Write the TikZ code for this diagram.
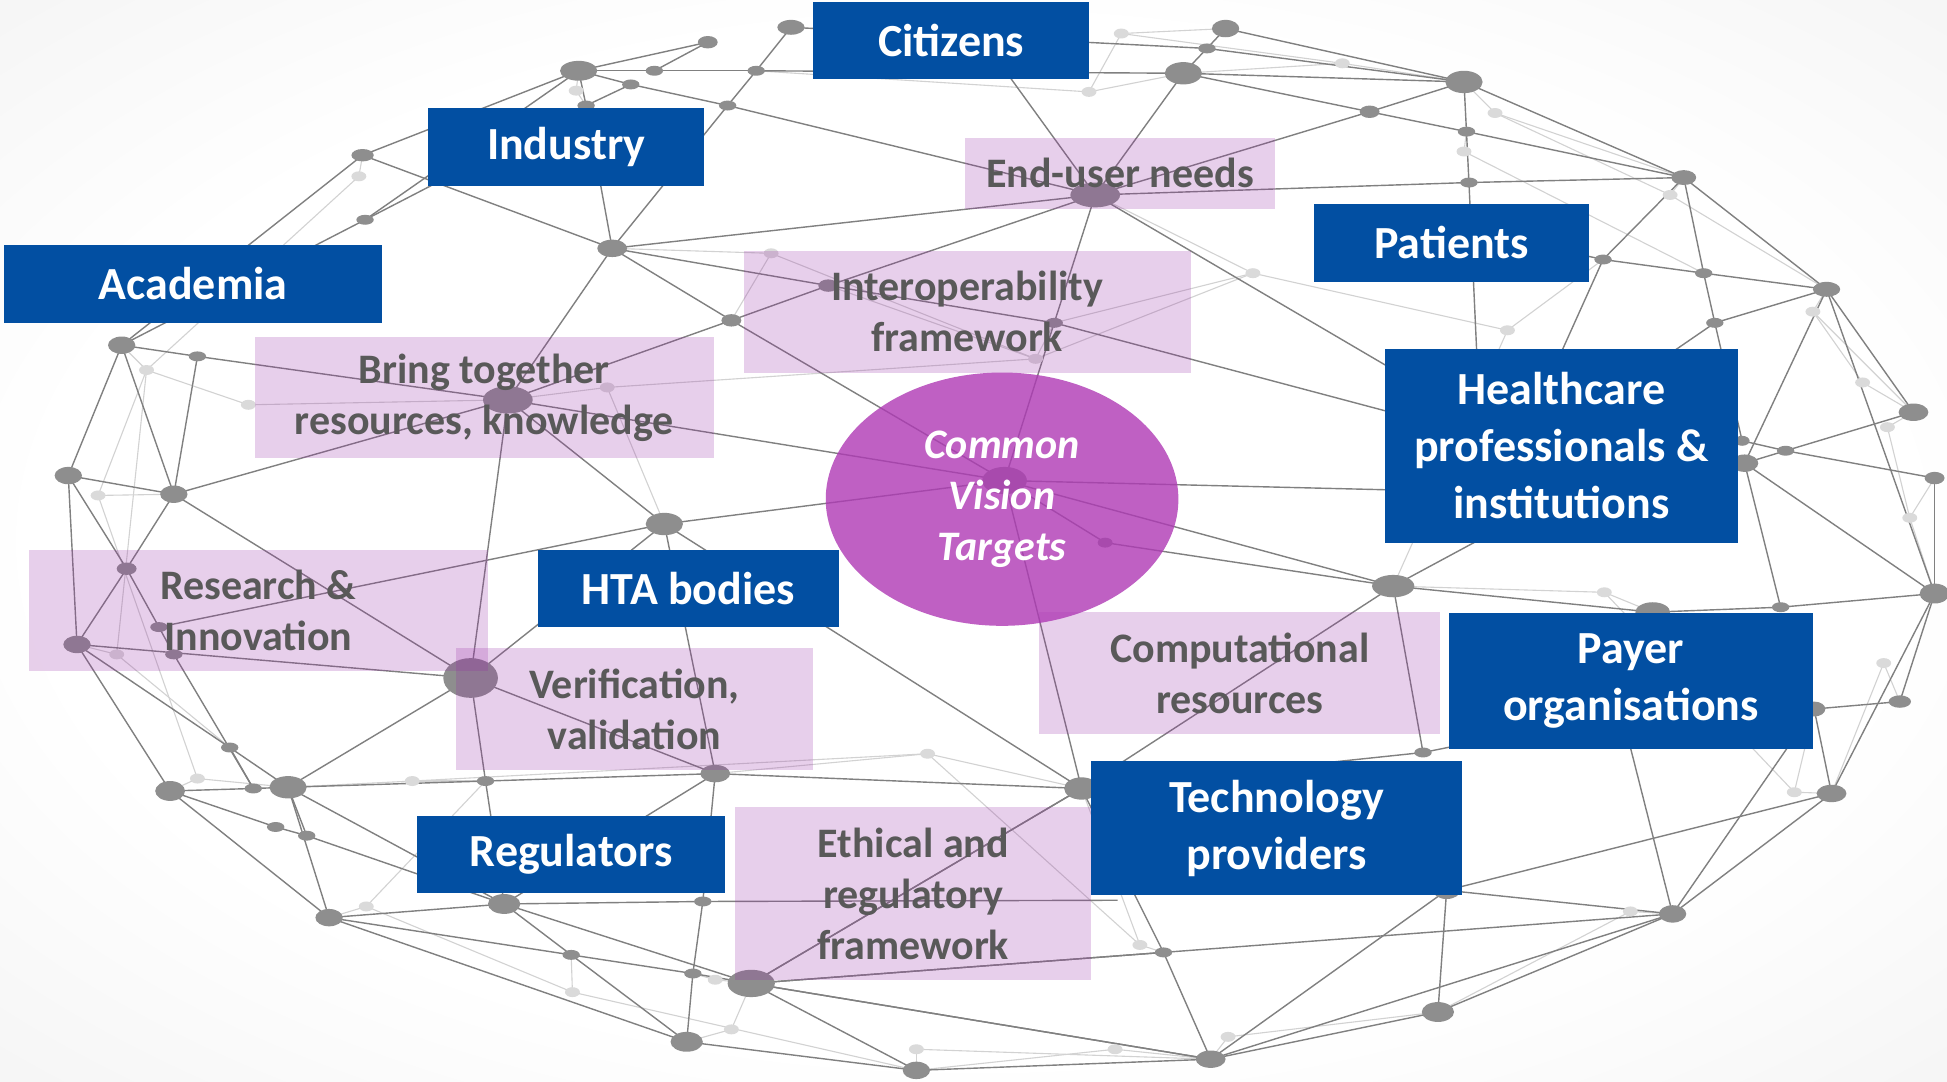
\documentclass[tikz,border=0pt]{standalone}
\usepackage{fontspec}
\setmainfont{Carlito}
\usetikzlibrary{shapes.geometric}

\definecolor{actorblue}{RGB}{2,79,162}
\definecolor{themepink}{RGB}{150,40,165}
\definecolor{themetext}{RGB}{89,89,89}
\definecolor{visionpurple}{RGB}{175,57,181}
\definecolor{meshdark}{RGB}{128,128,128}
\definecolor{meshlight}{RGB}{210,210,210}
\definecolor{dotdark}{RGB}{142,142,142}
\definecolor{dotlight}{RGB}{218,218,218}

\newdimen\unitpx \unitpx=0.6208pt
\pgfdeclareradialshading{bgglow}{\pgfpoint{0bp}{0bp}}{rgb(0bp)=(1,1,1); rgb(24bp)=(1,1,1); rgb(50bp)=(0.915,0.915,0.915); rgb(72bp)=(0.89,0.89,0.89)}

% mesh dots: name/x/y/rx/ry
\def\meshdots{a1/637/22/11/6, a2/570/34/8/5, a3/466/57/15/8, a4/527/57/7/4, a5/508/68/7/4, a6/609/57/7/4,
 a7/586/85/7/4, a8/472/85/7/4, a9/292/125/9/5, a10/294/177/7/4, a11/493/200/12/7, a12/589/258/8/5,
 a13/98/278/11/7, a14/159/287/7/4, a15/55/383/11/7, a16/140/398/11/7, a17/409/322/20/11, a18/535/422/15/9,
 a19/667/230/8/5, b1/987/23/11/7, b2/972/39/7/4, b3/953/59/15/9, b4/1179/66/15/9, b5/1103/90/8/5,
 b6/1181/106/7/4, b7/1183/147/7/4, b8/1356/143/10/6, b9/1291/209/7/4, b10/1372/220/7/4, b11/1471/233/11/6,
 b12/1381/260/7/4, b13/1541/332/12/7, b14/1558/385/8/5, b15/1438/363/7/4, b16/1405/373/11/7, b17/1403/355/6/4,
 b18/882/157/20/10, b19/849/260/7/4, b20/809/387/18/11, c1/102/458/8/5, c2/128/505/7/4, c3/62/519/11/7,
 c4/140/527/7/4, c5/379/546/22/16, c6/185/602/7/4, c7/137/637/12/8, c8/204/635/7/4, c9/232/634/15/9,
 c10/391/629/7/4, c11/576/623/12/7, c12/222/666/7/4, c13/247/673/7/4, c14/265/739/11/7, c15/406/728/13/8,
 c16/566/726/7/4, c17/460/769/7/4, c18/558/784/7/4, c19/605/792/19/11, c20/553/839/13/8, c21/738/862/11/7,
 d1/1122/472/17/9, d2/1331/493/14/8, d3/1434/489/7/4, d4/1558/478/12/8, d5/1461/571/9/6, d6/1530/565/9/5,
 d7/1146/606/7/4, d8/871/635/14/9, d9/1475/639/12/7, d10/1165/717/11/7, d11/1347/736/11/7, d12/937/767/7/4,
 d13/1158/815/13/8, d14/975/853/12/7, d15/890/437/6/4}
\def\faintdots{l1/464/73, l2/289/142, l3/118/298, l4/200/326, l5/79/399, l6/489/312, l7/621/204, l8/903/27,
 l9/1081/51, l10/877/74, l11/1204/91, l12/1179/122, l13/1345/157, l14/1009/220, l15/1214/266, l16/1460/251,
 l17/1500/308, l18/1520/344, l19/1538/417, l20/834/289, l21/94/527, l22/159/627, l23/332/629, l24/747/607,
 l25/295/730, l26/576/789, l27/461/799, l28/589/829, l29/738/845, l30/1292/477, l31/1517/534, l32/1445/638,
 l33/1313/734, l34/918/761, l35/989/835, l36/898/845}
\def\hiddenends{h1/790/30, h2/1190/300, h3/1160/320, h4/1150/340, h5/1140/395, h6/1250/300, h7/1200/430,
 h8/1300/575, h9/900/725, h10/1330/295, h11/1310/590, h12/1250/200, h13/950/640}
\def\meshlinks{a3/a2, a2/a4, a3/a4, a4/a6, a6/b3, a3/a5, a5/a7, a7/b18, a1/a6, a6/a7, a7/a11, a3/a8, a5/a8,
 a3/a9, a3/a10, a8/a11, a9/a11, a9/a13, a10/a13, a10/a8, a11/a12, a11/a17, a11/a19, a11/b18, a12/a19,
 a12/a17, a12/b20, a17/b20, a17/a18, a18/b20, a19/b18, a19/b19, a1/b2, a13/a14, a14/a17, a13/a15, a13/a16,
 a14/a16, a15/a16, a16/a17, a15/c3, a15/c1, a16/c1, a16/c5, a17/c5, a18/c5, a18/c11, a18/d8, c2/a18,
 b1/b2, b2/b3, b1/b4, b2/b4, b3/b4, b3/b5, b5/b4, b5/b6, b4/b6, b6/b7, b6/b8, b4/b8, b7/b8, b3/b18, b18/b5,
 b18/b7, b18/b19, b19/b20, b8/b9, b8/b10, b8/b11, b9/b10, b10/b11, b10/b12, b11/b12, b11/b13, b11/b16,
 b11/d4, b12/b17, b13/b15, b15/b17, b15/b14, b14/d4, b16/b15, b16/d4, b16/d3,
 b18/h1, b7/h2, b18/h3, b19/h4, b20/h5, b9/h6, d1/h7, d7/h8, c16/h9, b12/h10, d11/h11, b9/h12, d8/h13,
 d15/d1, d15/b20, d1/d2, d1/d7, d1/d8, d1/b20, d2/d3, d3/d4, d4/d6, d4/d9, d5/d6, d5/d9, d9/d10, d9/d11,
 d11/d10, d11/d13, d11/d14, d11/d12, d13/d10, d13/d14, d14/d12, d14/c19, d14/d10, d14/c21, d12/d8,
 d12/c19, d8/b20, d8/c11, d8/c19, d8/d7, d11/d5,
 c1/c3, c1/c2, c2/c4, c3/c5, c3/c7, c3/c6, c6/c9, c6/c8, c4/c8, c7/c8, c8/c9, c7/c12, c12/c13, c13/c15,
 c7/c14, c9/c5, c9/c10, c10/c11, c5/c10, c10/c15, c9/c13, c9/c14, c9/c15, c14/c15, c14/c20, c14/c17,
 c17/c18, c18/c19, c15/c16, c15/c17, c17/c20, c15/c19, c16/c11, c16/c18, c18/c20, c19/c21, c19/d8,
 c19/d12, c19/d14, c20/c21, c11/c15, c5/c11}
\def\faintlinks{l1/a3, l1/a8, l2/a9, l2/l3, l3/a13, l3/l4, l4/a17, l5/a16, l5/l3, l6/a17, l6/a18, l7/a12,
 l7/a11, l8/b1, l8/l10, l10/b3, l10/a6, l9/b4, l9/b3, l8/l9, l11/b4, l11/b8, l12/b6, l12/b10, l13/b8, l13/b11,
 l14/b19, l14/b18, l14/l15, l15/b9, l15/d1, l16/b11, l16/b13, l17/b13, l18/b13, l19/d4, l19/b14, l20/b19,
 l20/a19, l21/c3, l21/c6, l22/c7, l22/c9, l23/c9, l23/c10, l24/c11, l24/d8, l25/c14, l25/c10, l26/c19,
 l26/c18, l27/c17, l27/c21, l28/c19, l28/c20, l29/c21, l29/d14, l30/d2, l30/d1, l31/d6, l31/d9, l32/d9,
 l32/d5, l33/d11, l33/d13, l34/d12, l34/d8, l35/d14, l35/d13, l36/c21, l36/d14, l6/l20, l20/l14, l7/l20,
 l22/l5, l23/l24, l24/l34, l30/l32, l16/l17, l18/l19, l11/l13, l25/l27, l3/l21}

\tikzset{
  actor/.style={fill=actorblue, text=white, inner sep=0pt, align=center,
    font=\bfseries\fontsize{23}{28.5}\selectfont},
  theme/.style={fill=themepink, fill opacity=0.22, text opacity=1, text=themetext, inner sep=0pt,
    align=center, font=\bfseries\fontsize{21}{25.5}\selectfont},
  vision/.style={ellipse, fill=visionpurple, fill opacity=0.8, text opacity=1, text=white, inner sep=0pt,
    align=center, font=\bfseries\itshape\fontsize{21}{25.5}\selectfont},
  mesh/.style={draw=meshdark, line width=0.7pt},
  meshfaint/.style={draw=meshlight, line width=0.55pt},
}

\begin{document}
\begin{tikzpicture}[x=\unitpx, y=-\unitpx]

\useasboundingbox (0,0) rectangle (1568,871);
\shade[shading=bgglow] (0,0) rectangle (1568,871);

% network in the background
\foreach \n/\x/\y/\rx/\ry in \meshdots { \coordinate (\n) at (\x,\y); }
\foreach \n/\x/\y in \faintdots { \coordinate (\n) at (\x,\y); }
\foreach \n/\x/\y in \hiddenends { \coordinate (\n) at (\x,\y); }

\foreach \p/\q in \faintlinks { \draw[meshfaint] (\p) -- (\q); }
\foreach \p/\q in \meshlinks { \draw[mesh] (\p) -- (\q); }

\foreach \n/\x/\y in \faintdots { \fill[dotlight] (\n) ellipse ({6*\unitpx} and {4*\unitpx}); }
\foreach \n/\x/\y/\rx/\ry in \meshdots { \fill[dotdark] (\n) ellipse ({\rx*\unitpx} and {\ry*\unitpx}); }

% themes
\node[theme, minimum width=250\unitpx, minimum height=57\unitpx] (enduser) at (902,139.5) {End-user needs};
\node[theme, minimum width=360\unitpx, minimum height=98\unitpx] (interop) at (779,251) {Interoperability\\framework};
\node[theme, minimum width=370\unitpx, minimum height=98\unitpx] (bringtog) at (390,320) {Bring together\\resources, knowledge};
\node[theme, minimum width=370\unitpx, minimum height=97\unitpx] (research) at (208,491.5) {Research \&\\Innovation};
\node[theme, minimum width=288\unitpx, minimum height=98\unitpx] (verif) at (511,571) {Verification,\\validation};
\node[theme, minimum width=323\unitpx, minimum height=98\unitpx] (comput) at (998.5,542) {Computational\\resources};
\node[theme, minimum width=287\unitpx, minimum height=139\unitpx] (ethical) at (735.5,719.5) {Ethical and\\regulatory\\framework};

% common vision
\node[vision, minimum width=284\unitpx, minimum height=204\unitpx] (vision) at (807,402) {Common\\Vision\\Targets};

% stakeholders
\node[actor, minimum width=222\unitpx, minimum height=62\unitpx] (citizens) at (766,33) {Citizens};
\node[actor, minimum width=222\unitpx, minimum height=63\unitpx] (industry) at (456,118.5) {Industry};
\node[actor, minimum width=305\unitpx, minimum height=63\unitpx] (academia) at (155.5,228.5) {Academia};
\node[actor, minimum width=222\unitpx, minimum height=63\unitpx] (patients) at (1169,195.5) {Patients};
\node[actor, minimum width=285\unitpx, minimum height=156\unitpx] (healthcare) at (1257.5,359) {Healthcare\\professionals \&\\institutions};
\node[actor, minimum width=243\unitpx, minimum height=62\unitpx] (hta) at (554.5,474) {HTA bodies};
\node[actor, minimum width=293\unitpx, minimum height=109\unitpx] (payer) at (1313.5,548.5) {Payer\\organisations};
\node[actor, minimum width=298\unitpx, minimum height=108\unitpx] (techprov) at (1028,667) {Technology\\providers};
\node[actor, minimum width=248\unitpx, minimum height=62\unitpx] (regulators) at (460,688) {Regulators};

\end{tikzpicture}
\end{document}
